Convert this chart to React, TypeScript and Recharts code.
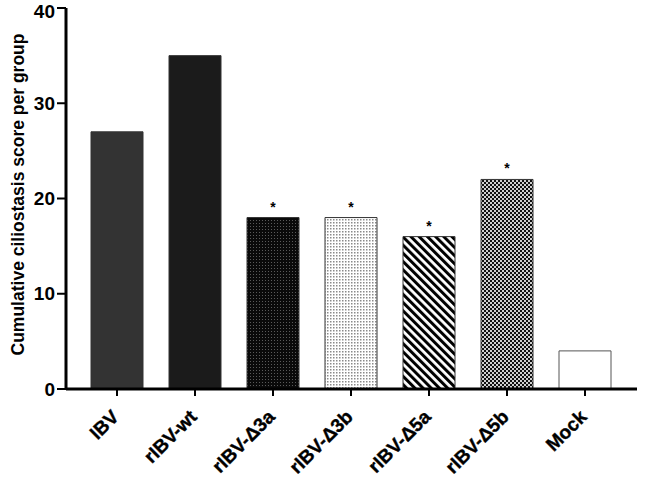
import { BarChart, Bar, XAxis, YAxis, Cell, LabelList } from 'recharts';

const categories = ['IBV', 'rIBV-wt', 'rIBV-Δ3a', 'rIBV-Δ3b', 'rIBV-Δ5a', 'rIBV-Δ5b', 'Mock'];
const scores = [27, 35, 18, 18, 16, 22, 4];
const significance = ['', '', '*', '*', '*', '*', ''];
const yTicks = [0, 10, 20, 30, 40];

const data = categories.map((name, i) => ({ name, score: scores[i], sig: significance[i] }));

// fill per bar (solid or svg pattern)
const barFills = [
  '#333333',
  '#1b1b1b',
  'url(#dotsDark)',
  'url(#dotsLight)',
  'url(#stripes)',
  'url(#checker)',
  '#ffffff',
];

const font = '"Liberation Sans", Arial, sans-serif';

function XTick(props: any) {
  const { x, y, payload } = props;
  return (
    <g transform={`translate(${x},${y})`}>
      <text
        x={3}
        y={20}
        textAnchor="end"
        transform="rotate(-45 3 20)"
        fontFamily={font}
        fontWeight="bold"
        fontSize={19}
        fill="#000"
        stroke="#000"
        strokeWidth={0.4}
      >
        {payload.value}
      </text>
    </g>
  );
}

function YLabel(props: any) {
  const { viewBox } = props;
  const cx = 24;
  const cy = viewBox.y + viewBox.height / 2 - 4;
  return (
    <text
      x={cx}
      y={cy}
      transform={`rotate(-90 ${cx} ${cy})`}
      textAnchor="middle"
      fontFamily={font}
      fontWeight="bold"
      fontSize={17.5}
      fill="#000"
    >
      Cumulative ciliostasis score per group
    </text>
  );
}

export default function App() {
  return (
    <div style={{ position: 'absolute', left: 0, top: 0, width: 645, height: 479, background: '#fff' }}>
      <BarChart width={645} height={479} data={data} margin={{ top: 8, right: 8, bottom: 0, left: 0 }}>
        <defs>
          <pattern id="dotsDark" width="3" height="3" patternUnits="userSpaceOnUse">
            <rect width="3" height="3" fill="#0a0a0a" />
            <rect x="1" y="1" width="1" height="1" fill="#5a5a5a" />
          </pattern>
          <pattern id="dotsLight" width="3" height="3" patternUnits="userSpaceOnUse">
            <rect width="3" height="3" fill="#ffffff" />
            <rect x="0" y="0" width="1.5" height="1.5" fill="#8a8a8a" />
          </pattern>
          <pattern id="stripes" width="5.8" height="10" patternUnits="userSpaceOnUse" patternTransform="rotate(-45)">
            <rect width="5.8" height="10" fill="#ffffff" />
            <rect width="3" height="10" fill="#000000" />
          </pattern>
          <pattern id="checker" width="4" height="4" patternUnits="userSpaceOnUse">
            <rect width="4" height="4" fill="#111111" />
            <rect x="0" y="0" width="2" height="2" fill="#d0d0d0" />
            <rect x="2" y="2" width="2" height="2" fill="#d0d0d0" />
          </pattern>
        </defs>
        <XAxis
          dataKey="name"
          interval={0}
          height={90}
          padding={{ left: 12, right: 13 }}
          axisLine={{ stroke: '#000', strokeWidth: 3 }}
          tickLine={{ stroke: '#000', strokeWidth: 2 }}
          tickSize={7}
          tick={XTick}
        />
        <YAxis
          width={66}
          domain={[0, 40]}
          ticks={yTicks}
          axisLine={{ stroke: '#000', strokeWidth: 3 }}
          tickLine={{ stroke: '#000', strokeWidth: 2 }}
          tickSize={9}
          tickMargin={2}
          tick={{ fill: '#000', fontFamily: font, fontWeight: 'bold', fontSize: 19 }}
          label={<YLabel />}
        />
        <Bar dataKey="score" barSize={52} stroke="#444" strokeWidth={1} isAnimationActive={false}>
          {data.map((d, i) => (
            <Cell key={d.name} fill={barFills[i]} stroke={i === 6 ? '#555' : '#333'} />
          ))}
          <LabelList
            dataKey="sig"
            position="top"
            offset={6}
            fill="#000"
            fontFamily={font}
            fontWeight="bold"
            fontSize={14}
          />
        </Bar>
      </BarChart>
    </div>
  );
}
